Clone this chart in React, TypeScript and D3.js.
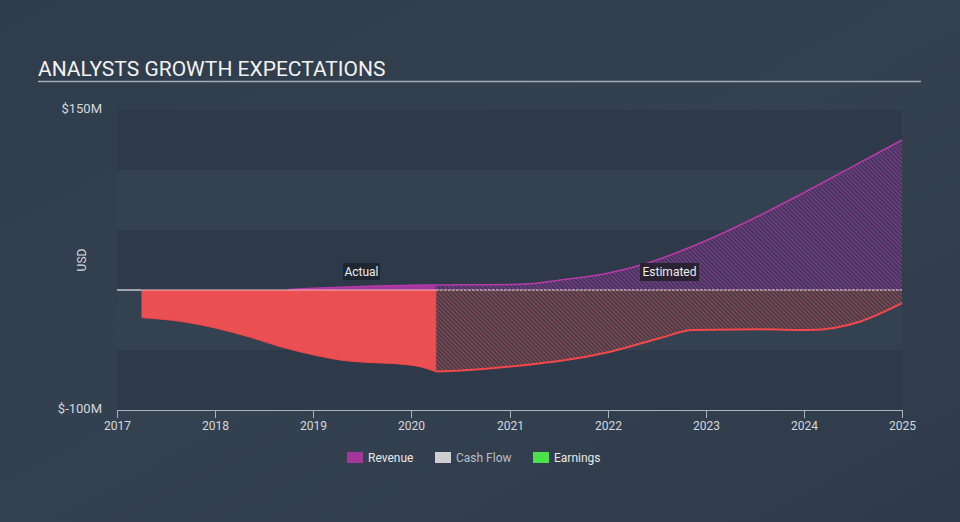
import React from "react";
import * as d3 from "d3";

const W = 960;
const H = 522;

const yTicks = [150, -100];
const xTickYears = [2017, 2018, 2019, 2020, 2021, 2022, 2023, 2024, 2025];

// Cash flow (USD millions), year as decimal
const cashYears = [2017.25, 2017.67, 2018.02, 2018.36, 2018.69, 2019.04, 2019.27, 2019.55, 2019.88, 2020.09, 2020.25, 2020.7, 2021.32, 2021.52, 2022.03, 2022.54, 2022.87, 2023.55, 2024.06, 2024.57, 2025.0];
const cashValues = [-23, -26.4, -32, -39.4, -47.8, -54.7, -58.3, -60.3, -61.7, -63.9, -68, -66, -61, -59, -51.4, -40, -33.3, -32.8, -33.3, -26.4, -11];

// Revenue (USD millions)
const revYears = [2018.75, 2019.0, 2019.5, 2020.0, 2020.25, 2020.5, 2021.0, 2021.25, 2021.52, 2022.0, 2022.35, 2023.0, 2023.5, 2024.0, 2024.5, 2025.0];
const revValues = [0.5, 1.5, 3, 4, 4.2, 4.3, 4.5, 5.5, 8.3, 14, 21, 41, 60, 81, 103, 125];

const splitYear = 2020.25;

const legendItems = [
  { label: "Revenue", color: "#a4359b", text: "#e8e8e8" },
  { label: "Cash Flow", color: "#cfcfcf", text: "#b8bec6" },
  { label: "Earnings", color: "#4de04d", text: "#e8e8e8" },
];

function yearToDate(y: number) {
  const yr = Math.floor(y);
  const frac = y - yr;
  const start = new Date(yr, 0, 1).getTime();
  const end = new Date(yr + 1, 0, 1).getTime();
  return new Date(start + frac * (end - start));
}

export default function App() {
  const left = 117, right = 902, top = 110, bottom = 410;
  const x = d3.scaleTime().domain([yearToDate(2017), yearToDate(2025)]).range([left, right]);
  const y = d3.scaleLinear().domain([-100, 150]).range([bottom, top]);

  const cash = cashYears.map((yy, i) => ({ t: yy, v: cashValues[i] }));
  const rev = revYears.map((yy, i) => ({ t: yy, v: revValues[i] }));

  const area = d3
    .area<{ t: number; v: number }>()
    .x((d) => x(yearToDate(d.t)))
    .y0(y(0))
    .y1((d) => y(d.v))
    .curve(d3.curveMonotoneX);
  const line = d3
    .line<{ t: number; v: number }>()
    .x((d) => x(yearToDate(d.t)))
    .y((d) => y(d.v))
    .curve(d3.curveMonotoneX);

  const cashAct = cash.filter((d) => d.t <= splitYear);
  const cashEst = cash.filter((d) => d.t >= splitYear);
  const revAct = rev.filter((d) => d.t <= splitYear);
  const revEst = rev.filter((d) => d.t >= splitYear);

  const bands = [150, 100, 50, 0, -50];
  const xs = x(yearToDate(splitYear));

  return (
    <svg width={W} height={H} style={{ position: "absolute", left: 0, top: 0, display: "block" }} fontFamily="Roboto, sans-serif">
      <defs>
        <pattern id="hatchRev" width="3" height="3" patternUnits="userSpaceOnUse" patternTransform="rotate(-45)">
          <rect width="3" height="3" fill="#3d3a5c" />
          <line x1="0" y1="0" x2="0" y2="3" stroke="#a4359b" strokeWidth="1.6" />
        </pattern>
        <pattern id="hatchCash" width="3" height="3" patternUnits="userSpaceOnUse" patternTransform="rotate(-45)">
          <rect width="3" height="3" fill="#403f4c" />
          <line x1="0" y1="0" x2="0" y2="3" stroke="#c4474c" strokeWidth="1.5" />
        </pattern>
        <linearGradient id="bg" x1="0" y1="0" x2="1" y2="1">
          <stop offset="0" stopColor="#2f3c4b" />
          <stop offset="0.5" stopColor="#344150" />
          <stop offset="1" stopColor="#2f3b4a" />
        </linearGradient>
      </defs>
      <rect width={W} height={H} fill="url(#bg)" />

      <text x={38} y={76} fill="#f2f2f2" fontSize={21}>ANALYSTS GROWTH EXPECTATIONS</text>
      <line x1={38} x2={921} y1={81.5} y2={81.5} stroke="#a3abb5" strokeWidth={1.5} />

      {bands.map((b, i) => (
        <rect key={b} x={left} y={y(b)} width={right - left} height={y(b - 50) - y(b)} fill={i % 2 === 0 ? "#2e3a49" : "#344150"} />
      ))}

      {yTicks.map((t) => (
        <text key={t} x={102} y={y(t) + 3} textAnchor="end" fill="#d5d9de" fontSize={13}>
          {t < 0 ? `$-${Math.abs(t)}M` : `$${t}M`}
        </text>
      ))}
      <text transform={`translate(86,260) rotate(-90)`} textAnchor="middle" fill="#d5d9de" fontSize={12}>USD</text>

      {/* Revenue */}
      <path d={area(revAct) || ""} fill="#a4359b" />
      <path d={area(revEst) || ""} fill="url(#hatchRev)" />
      <path d={line(rev) || ""} fill="none" stroke="#b83aaa" strokeWidth={1.5} />

      {/* Cash flow */}
      <path d={area(cashAct) || ""} fill="#ea4f51" />
      <path d={area(cashEst) || ""} fill="url(#hatchCash)" />
      <path d={line(cashEst) || ""} fill="none" stroke="#f2484a" strokeWidth={2} />
      <path d={line(cashAct) || ""} fill="none" stroke="#f2484a" strokeWidth={1} />
      <line x1={xs} x2={xs} y1={y(0)} y2={y(cashValues[cashYears.indexOf(splitYear)])} stroke="#ea4f51" strokeWidth={1} />

      {/* zero line */}
      <line x1={left} x2={x(yearToDate(cashYears[0]))} y1={y(0)} y2={y(0)} stroke="#e8ecf0" strokeWidth={1.2} />
      <line x1={x(yearToDate(cashYears[0]))} x2={xs} y1={y(0)} y2={y(0)} stroke="#f3b9bb" strokeWidth={1} />
      <line x1={xs} x2={right} y1={y(0)} y2={y(0)} stroke="#f4dce2" strokeWidth={1} strokeDasharray="3 1" />

      {/* labels */}
      <rect x={343} y={263} width={37} height={17} fill="#1d2631" />
      <text x={361.5} y={275.5} textAnchor="middle" fill="#eeeeee" fontSize={12}>Actual</text>
      <rect x={640} y={263} width={59} height={18} fill="#2a2230" />
      <text x={669.5} y={276} textAnchor="middle" fill="#eeeeee" fontSize={12}>Estimated</text>

      {/* x axis */}
      <line x1={left} x2={right} y1={bottom + 0.5} y2={bottom + 0.5} stroke="#a9b3be" strokeWidth={1} />
      {xTickYears.map((yr) => {
        const px = Math.round(x(yearToDate(yr))) + 0.5;
        return (
          <g key={yr}>
            <line x1={px} x2={px} y1={bottom} y2={bottom + 8} stroke="#a9b3be" strokeWidth={1} />
            <text x={px} y={430} textAnchor="middle" fill="#d5d9de" fontSize={12}>{yr}</text>
          </g>
        );
      })}

      {/* legend */}
      {legendItems.map((it, i) => {
        const lx = [347, 435, 533][i];
        return (
          <g key={it.label}>
            <rect x={lx} y={452} width={16} height={11} fill={it.color} />
            <text x={lx + 21} y={462} fill={it.text} fontSize={12}>{it.label}</text>
          </g>
        );
      })}
    </svg>
  );
}
